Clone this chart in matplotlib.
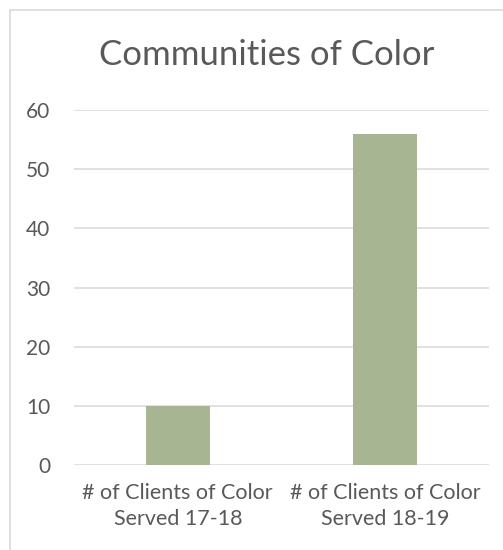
import matplotlib.pyplot as plt
from matplotlib.patches import Rectangle

categories = ["# of Clients of Color\nServed 17-18", "# of Clients of Color\nServed 18-19"]
values = [10, 56]
yticks = [0, 10, 20, 30, 40, 50, 60]

plt.rcParams['font.family'] = ['Lato', 'DejaVu Sans']

fig = plt.figure(figsize=(5.03, 5.5), dpi=100, facecolor="white")

# chart area border (cut off at right/bottom like the screenshot)
fig.patches.append(Rectangle((10/503, -0.1), 1.2, 1 - 10/550 + 0.1, transform=fig.transFigure,
                             fill=False, edgecolor="#D9D9D9", linewidth=1.2))

ax = fig.add_axes([74/503, 1 - 465/550, 415/503, 355/550])
x = range(len(categories))
ax.bar(x, values, width=0.31, color="#A7B592", zorder=3)

ax.set_xlim(-0.5, 1.5)
ax.set_ylim(0, 60)
ax.set_yticks(yticks)
ax.set_xticks(list(x))
ax.set_xticklabels(categories, fontsize=15.5, color="#595959", linespacing=1.35)
ax.tick_params(axis='y', labelsize=15, labelcolor="#595959", length=0, pad=17)
ax.tick_params(axis='x', length=0, pad=13)
ax.grid(axis='y', color="#D9D9D9", linewidth=1.1, zorder=0)
for s in ax.spines.values():
    s.set_visible(False)

fig.text(0.53, 1 - 55/550, "Communities of Color", fontsize=25, color="#595959",
         ha='center', va='center')

fig.savefig("out.png", dpi=100)
